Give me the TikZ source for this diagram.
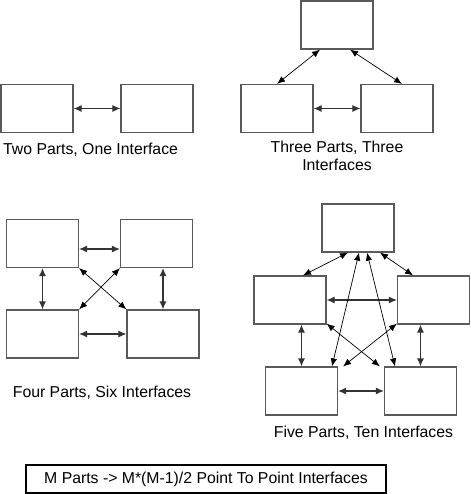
\documentclass[tikz,border=0pt]{standalone}
\usepackage{fontspec}
\setmainfont{Liberation Sans}
\usepackage{tikz}
\usetikzlibrary{arrows.meta,positioning,calc}
\definecolor{boxgray}{RGB}{90,90,90}

\begin{document}
\begin{tikzpicture}[x=1pt,y=-1pt,
    part/.style={draw=boxgray,line width=1.2pt,fill=white,minimum width=72pt,minimum height=48pt,inner sep=0pt},
    link/.style={{Latex[length=8pt,width=7pt]}-{Latex[length=8pt,width=7pt]},line width=1.1pt,draw=black!80},
    xlink/.style={{Latex[length=8pt,width=6.5pt]}-{Latex[length=8pt,width=6.5pt]},line width=0.7pt},
    caption/.style={font=\fontsize{15.8pt}{17.5pt}\selectfont,inner sep=0pt,align=center}]
    \useasboundingbox (0,0) rectangle (471,494);

    % Two parts
    \node[part] (twoa) at (37,108.5) {};
    \node[part] (twob) at (157,108.5) {};
    \draw[link] (twoa.east) -- (twob.west);
    \node[caption,anchor=base west] (twocap) at (3,155) {Two Parts, One Interface};

    % Three parts
    \node[part] (threetop) at (337,25) {};
    \node[part] (threebl) at (277,108.5) {};
    \node[part] (threebr) at (397,108.5) {};
    \draw[xlink] ([xshift=-17pt]threetop.south) -- (threebl.north);
    \draw[xlink] ([xshift=13pt]threetop.south) -- ([xshift=5pt]threebr.north);
    \draw[link] (threebl.east) -- (threebr.west);
    \node[caption,anchor=north] (threecap) at (337,141) {Three Parts, Three\\Interfaces};

    % Four parts
    \node[part] (fourtl) at (42.5,243.5) {};
    \node[part] (fourtr) at (156.5,243.5) {};
    \node[part] (fourbl) at (42.5,334) {};
    \node[part] (fourbr) at (163,334) {};
    \draw[link] ([yshift=-5.5pt]fourtl.east) -- ([yshift=-5.5pt]fourtr.west);
    \draw[link] (fourbl.east) -- (fourbr.west);
    \draw[link] (fourtl.south) -- (fourbl.north);
    \draw[link] (fourbr.north |- fourtr.south) -- (fourbr.north);
    \draw[xlink] (fourtl.south east) -- (fourbr.north west);
    \draw[xlink] (fourtr.south west) -- (fourbl.north east);
    \node[caption,anchor=base] (fourcap) at (102,397) {Four Parts, Six Interfaces};

    % Five parts
    \node[part] (fivetop) at (358,228) {};
    \node[part] (fiveml) at (290,300) {};
    \node[part] (fivemr) at (433.5,300) {};
    \node[part] (fivebl) at (301.5,391) {};
    \node[part] (fivebr) at (420.5,391) {};
    \draw[xlink] ([xshift=-10pt]fivetop.south) -- ([xshift=13pt]fiveml.north);
    \draw[xlink] ([xshift=22pt]fivetop.south) -- ([xshift=-20.5pt]fivemr.north);
    \draw[link] (fiveml.east) -- (fivemr.west);
    \draw[link] (fivebl.north |- fiveml.south) -- (fivebl.north);
    \draw[link] (fivebr.north |- fivemr.south) -- (fivebr.north);
    \draw[link] (fivebl.east) -- (fivebr.west);
    \draw[xlink] ([xshift=1pt]fivetop.south) -- ([xshift=30.5pt]fivebl.north);
    \draw[xlink] ([xshift=9pt]fivetop.south) -- ([xshift=-25.5pt]fivebr.north);
    \draw[xlink] ([yshift=1pt]fiveml.south east) -- ([xshift=-4pt]fivebr.north west);
    \draw[xlink] ([yshift=1pt]fivemr.south west) -- ([xshift=5pt]fivebl.north east);
    \node[caption,anchor=base] (fivecap) at (363.5,437) {Five Parts, Ten Interfaces};

    % Rule
    \node[draw=black,line width=1.2pt,minimum width=360pt,minimum height=28pt,inner sep=0pt,
      font=\fontsize{15.8pt}{17.5pt}\selectfont] (rule) at (206,479) {M Parts -> M*(M-1)/2 Point To Point Interfaces};
\end{tikzpicture}
\end{document}
